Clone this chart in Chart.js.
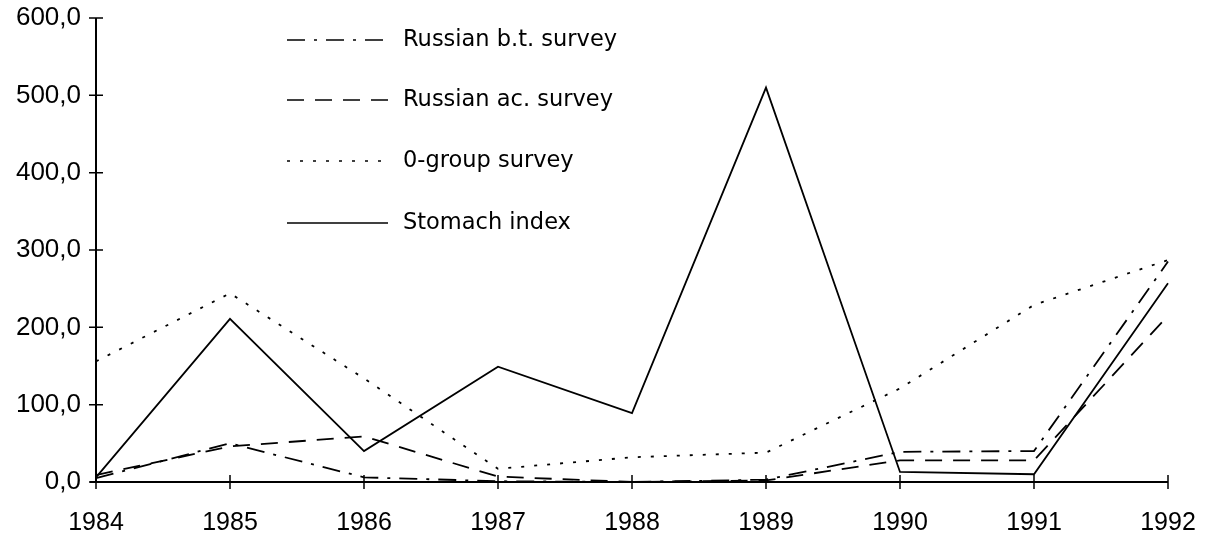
<!DOCTYPE html>
<html>
<head>
<meta charset="utf-8">
<script src="https://cdn.jsdelivr.net/npm/chart.js@4.4.1/dist/chart.umd.min.js"></script>
<style>
  html, body { margin: 0; padding: 0; background: #fff; }
  #wrap { width: 1207px; height: 539px; position: relative; }
</style>
</head>
<body>
<div id="wrap"><canvas id="capelinChart"></canvas></div>
<script>
// data
var years        = ["1984", "1985", "1986", "1987", "1988", "1989", "1990", "1991", "1992"];
var russianBt    = [5, 50, 6, 1, 0, 3, 39, 40, 285];
var russianAc    = [9, 46, 59, 7, 0, 2, 28, 28, 215];
var zeroGroup    = [156, 244, 134, 17, 32, 38, 121, 229, 287];
var stomachIndex = [6, 211, 40, 149, 89, 510, 13, 10, 257];
var yTicks       = [0, 100, 200, 300, 400, 500, 600];

var FONT = "Liberation Sans";
var LEGEND_FONT = "DejaVu Sans";

// ticks that cross the axis line, like the old plot
var crossTicks = {
    id: 'crossTicks',
    afterDraw: function (chart) {
        var ctx = chart.ctx;
        var xs = chart.scales.x, ys = chart.scales.y;
        var area = chart.chartArea;
        ctx.save();
        ctx.strokeStyle = "#000";
        ctx.lineWidth = 2;
        ctx.beginPath();
        ctx.moveTo(area.left, area.top);
        ctx.lineTo(area.left, area.bottom);
        ctx.moveTo(area.left - 6, area.bottom);
        ctx.lineTo(area.right, area.bottom);
        ctx.stroke();
        ctx.lineWidth = 1.5;
        ctx.beginPath();
        yTicks.forEach(function (v) {
            var y = ys.getPixelForValue(v);
            ctx.moveTo(area.left - 7, y);
            ctx.lineTo(area.left + 7, y);
        });
        years.forEach(function (lab, i) {
            var x = xs.getPixelForValue(i);
            ctx.moveTo(x, area.bottom - 7);
            ctx.lineTo(x, area.bottom + 7);
        });
        ctx.stroke();
        ctx.restore();
    }
};

// legend drawn as in the reference (line sample then label)
var lineLegend = {
    id: 'lineLegend',
    afterDraw: function (chart) {
        var ctx = chart.ctx;
        var rows = [40, 100, 161, 223];
        ctx.save();
        ctx.font = "22.5px '" + LEGEND_FONT + "'";
        ctx.textBaseline = "middle";
        ctx.fillStyle = "#000";
        chart.data.datasets.forEach(function (ds, i) {
            var y = rows[i];
            ctx.strokeStyle = "#000";
            ctx.lineWidth = 1.6;
            ctx.setLineDash(ds.borderDash || []);
            ctx.beginPath();
            ctx.moveTo(287, y);
            ctx.lineTo(388, y);
            ctx.stroke();
            ctx.setLineDash([]);
            ctx.fillText(ds.label, 403, y);
        });
        ctx.restore();
    }
};

var ctx = document.getElementById("capelinChart");

var chart = new Chart(ctx, {
    type: 'line',
    data: {
        labels: years,
        datasets: [
            { label: "Russian b.t. survey", data: russianBt,    borderDash: [18, 9, 3, 9] },
            { label: "Russian ac. survey",  data: russianAc,    borderDash: [17, 11] },
            { label: "0-group survey",      data: zeroGroup,    borderDash: [3, 10] },
            { label: "Stomach index",       data: stomachIndex, borderDash: [] }
        ].map(function (d) {
            d.borderColor = "#000";
            d.borderWidth = 1.8;
            d.pointRadius = 0;
            d.tension = 0;
            d.fill = false;
            return d;
        })
    },
    options: {
        responsive: true,
        maintainAspectRatio: false,
        animation: false,
        layout: { padding: { top: 18, right: 39, left: 0, bottom: 0 } },
        plugins: {
            legend: { display: false },
            tooltip: { enabled: false }
        },
        scales: {
            x: {
                offset: false,
                grid: { display: false, drawTicks: false },
                border: { display: false },
                ticks: {
                    color: "#000",
                    padding: 26,
                    maxRotation: 0,
                    font: { family: FONT, size: 25 }
                },
                afterFit: function (s) {
                    s.height = 57;
                    s.paddingLeft = 0;
                    s.paddingRight = 0;
                }
            },
            y: {
                min: 0,
                max: 600,
                grid: { display: false, drawTicks: false },
                border: { display: false },
                ticks: {
                    stepSize: 100,
                    color: "#000",
                    padding: 15,
                    font: { family: FONT, size: 26 },
                    callback: function (v) { return v.toFixed(1).replace(".", ","); }
                },
                afterFit: function (s) {
                    s.width = 96;
                    s.paddingTop = 0;
                    s.paddingBottom = 0;
                }
            }
        }
    },
    plugins: [crossTicks, lineLegend]
});
</script>
</body>
</html>
